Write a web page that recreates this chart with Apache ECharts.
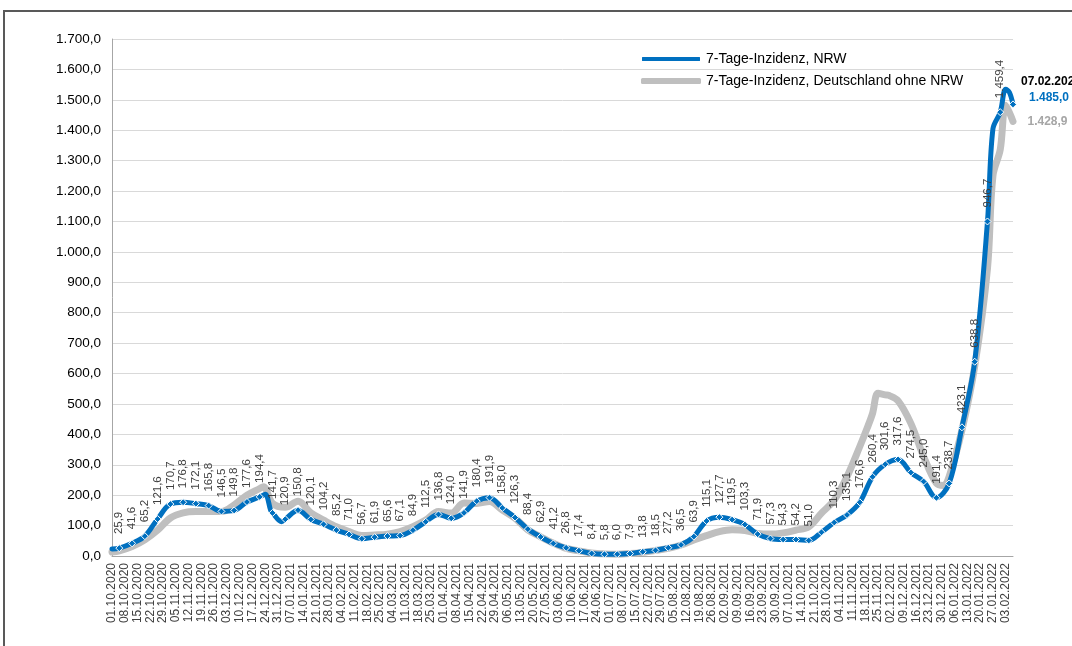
<!DOCTYPE html>
<html>
<head>
<meta charset="utf-8">
<title>7-Tage-Inzidenz NRW</title>
<script src="https://cdn.jsdelivr.net/npm/echarts@6/dist/echarts.min.js"></script>
<style>
  html, body { margin: 0; padding: 0; background: #fff; overflow: hidden; }
  #chart { position: absolute; left: 0; top: 0; width: 1072px; height: 646px; }
  #frame { position: absolute; left: 3px; top: 10px; width: 1200px; height: 800px;
           border-left: 2px solid #595959; border-top: 2px solid #595959; pointer-events: none; }
</style>
</head>
<body>
<div id="chart"></div>
<div id="frame"></div>
<script>
// weekly values (Mondays, 05.10.2020 ... 07.02.2022)
const nrwValues = [
  25.9, 41.6, 65.2, 121.6, 170.7, 176.8, 172.1, 165.8, 146.5, 149.8,
  177.6, 194.4, 141.7, 120.9, 150.8, 120.1, 104.2, 85.2, 71.0, 56.7,
  61.9, 65.6, 67.1, 84.9, 112.5, 136.8, 124.0, 141.9, 180.4, 191.9,
  158.0, 126.3, 88.4, 62.9, 41.2, 26.8, 17.4, 8.4, 5.8, 6.0,
  7.9, 13.8, 18.5, 27.2, 36.5, 63.9, 115.1, 127.7, 119.5, 103.3,
  71.9, 57.3, 54.3, 54.2, 51.0, 78, 110.3, 135.1, 176.6, 260.4,
  301.6, 317.6, 274.5, 245.0, 191.4, 238.7, 423.1, 638.8, 1100, 1459.4,
  1485.0
]
// data labels as printed in the chart (null = no label)
const nrwLabels = [
  25.9, 41.6, 65.2, 121.6, 170.7, 176.8, 172.1, 165.8, 146.5, 149.8,
  177.6, 194.4, 141.7, 120.9, 150.8, 120.1, 104.2, 85.2, 71.0, 56.7,
  61.9, 65.6, 67.1, 84.9, 112.5, 136.8, 124.0, 141.9, 180.4, 191.9,
  158.0, 126.3, 88.4, 62.9, 41.2, 26.8, 17.4, 8.4, 5.8, 6.0,
  7.9, 13.8, 18.5, 27.2, 36.5, 63.9, 115.1, 127.7, 119.5, 103.3,
  71.9, 57.3, 54.3, 54.2, 51.0, null, 110.3, 135.1, 176.6, 260.4,
  301.6, 317.6, 274.5, 245.0, 191.4, 238.7, 423.1, 638.8, 946.7, 1459.4,
  null
]
const deValues = [
  17, 31, 53, 85, 125, 142, 146, 146, 146, 168,
  200, 222, 173, 160, 180, 142, 118, 96, 80, 67,
  69, 72, 80, 96, 118, 146, 141, 174, 173, 179,
  151, 124, 86, 63, 42, 25, 17, 10, 7, 6,
  8, 12, 18, 25, 36, 53, 67, 80, 86, 84,
  74, 72, 76, 85, 96, 141, 184, 261, 360, 469,
  530, 510, 436, 327, 239, 261, 414, 623, 945, 1336,
  1428.9
]
// extra daily readings between the weekly points
const nrwExtraDates = ['01.10.2020', '24.12.2020', '27.12.2020', '02.01.2021', '27.01.2022', '03.02.2022', '05.02.2022']
const nrwExtraValues = [23, 203, 150, 113, 1405, 1535, 1525]
const deExtraDates = ['01.10.2020', '23.12.2020', '19.11.2021', '25.11.2021', '01.12.2021', '31.12.2021', '27.01.2022', '03.02.2022']
const deExtraValues = [13, 228, 420, 535, 528, 232, 1250, 1482]

const lastDate = '07.02.2022'
const seriesNames = ['7-Tage-Inzidenz, NRW', '7-Tage-Inzidenz, Deutschland ohne NRW']

const BLUE = '#0070c0'
const GREY = '#bfbfbf'
const FONT = '"Liberation Sans", Arial, sans-serif'

function fmtDate(d) {
  const p = n => (n < 10 ? '0' : '') + n
  return p(d.getDate()) + '.' + p(d.getMonth() + 1) + '.' + d.getFullYear()
}
function de(v) {
  const s = v.toFixed(1).split('.')
  return s[0].replace(/\B(?=(\d{3})+(?!\d))/g, '.') + ',' + s[1]
}

// daily category axis 01.10.2020 .. 07.02.2022
const days = []
const dayIndex = {}
for (let d = new Date(2020, 9, 1, 12); ; d.setDate(d.getDate() + 1)) {
  const s = fmtDate(d)
  dayIndex[s] = days.length
  days.push(s)
  if (s === lastDate) break
}
// Mondays carrying the weekly values
const weekDays = []
for (let i = dayIndex['05.10.2020']; i < days.length; i += 7) weekDays.push(days[i])

function buildNrw() {
  const data = weekDays.map((d, i) => {
    const item = { value: [dayIndex[d], nrwValues[i]], lab: nrwLabels[i] }
    if (nrwLabels[i] == null) item.label = { show: false }
    return item
  })
  const last = data[data.length - 1]
  last.label = {
    show: true,
    position: 'right',
    rotate: 0,
    align: 'left',
    verticalAlign: 'middle',
    distance: 4,
    offset: [0, -15],
    formatter: '{d|' + lastDate + '}\n{v|' + de(nrwValues[nrwValues.length - 1]) + '}',
    rich: {
      d: { fontFamily: FONT, fontSize: 12, fontWeight: 'bold', color: '#000', lineHeight: 16 },
      v: { fontFamily: FONT, fontSize: 12, fontWeight: 'bold', color: BLUE, lineHeight: 16, padding: [0, 0, 0, 8] }
    }
  }
  nrwExtraDates.forEach((d, i) => {
    data.push({ value: [dayIndex[d], nrwExtraValues[i]], symbol: 'none', label: { show: false } })
  })
  return data.sort((a, b) => a.value[0] - b.value[0])
}

function buildDe() {
  const data = weekDays.map((d, i) => ({ value: [dayIndex[d], deValues[i]], label: { show: false } }))
  const last = data[data.length - 1]
  last.label = {
    show: true,
    position: 'right',
    distance: 14,
    formatter: de(deValues[deValues.length - 1]),
    fontFamily: FONT,
    fontSize: 12,
    fontWeight: 'bold',
    color: '#a6a6a6'
  }
  deExtraDates.forEach((d, i) => {
    data.push({ value: [dayIndex[d], deExtraValues[i]], label: { show: false } })
  })
  return data.sort((a, b) => a.value[0] - b.value[0])
}

const chart = echarts.init(document.getElementById('chart'), null, { renderer: 'canvas' })
chart.setOption({
  animation: false,
  textStyle: { fontFamily: FONT },
  grid: { left: 112, right: 59, top: 39, bottom: 90, containLabel: false },
  legend: {
    data: seriesNames,
    orient: 'vertical',
    left: 640,
    top: 52,
    padding: 0,
    itemGap: 8,
    itemWidth: 60,
    itemHeight: 6,
    icon: 'roundRect',
    textStyle: { fontFamily: FONT, fontSize: 14, color: '#000' }
  },
  xAxis: {
    type: 'category',
    data: days,
    boundaryGap: false,
    axisLine: { lineStyle: { color: '#a6a6a6', width: 1 } },
    axisTick: { show: false },
    axisLabel: {
      interval: 6,
      rotate: 90,
      margin: 7,
      fontFamily: FONT,
      fontSize: 12,
      color: '#404040'
    },
    splitLine: { show: false }
  },
  yAxis: {
    type: 'value',
    min: 0,
    max: 1700,
    interval: 100,
    axisLine: { show: true, lineStyle: { color: '#a6a6a6', width: 1 } },
    axisTick: { show: false },
    axisLabel: {
      margin: 11,
      fontFamily: FONT,
      fontSize: 13.5,
      color: '#000',
      formatter: v => de(v)
    },
    splitLine: { lineStyle: { color: '#d9d9d9', width: 1 } }
  },
  series: [
    {
      name: seriesNames[1],
      type: 'line',
      data: buildDe(),
      smooth: 0.35,
      symbol: 'circle',
      symbolSize: 1,
      showSymbol: true,
      showAllSymbol: true,
      z: 2,
      color: GREY,
      itemStyle: { color: GREY },
      lineStyle: { color: GREY, width: 7, cap: 'round', join: 'round' }
    },
    {
      name: seriesNames[0],
      type: 'line',
      data: buildNrw(),
      smooth: 0.35,
      symbol: 'diamond',
      symbolSize: 7,
      showAllSymbol: true,
      z: 3,
      color: BLUE,
      itemStyle: { color: BLUE, borderColor: '#fff', borderWidth: 1 },
      lineStyle: { color: BLUE, width: 5, cap: 'round', join: 'round' },
      label: {
        show: true,
        position: 'top',
        rotate: 90,
        align: 'left',
        verticalAlign: 'middle',
        distance: 10,
        fontFamily: FONT,
        fontSize: 11.5,
        color: '#404040',
        formatter: p => (p.data.lab == null ? '' : de(p.data.lab))
      }
    }
  ]
})
</script>
</body>
</html>
